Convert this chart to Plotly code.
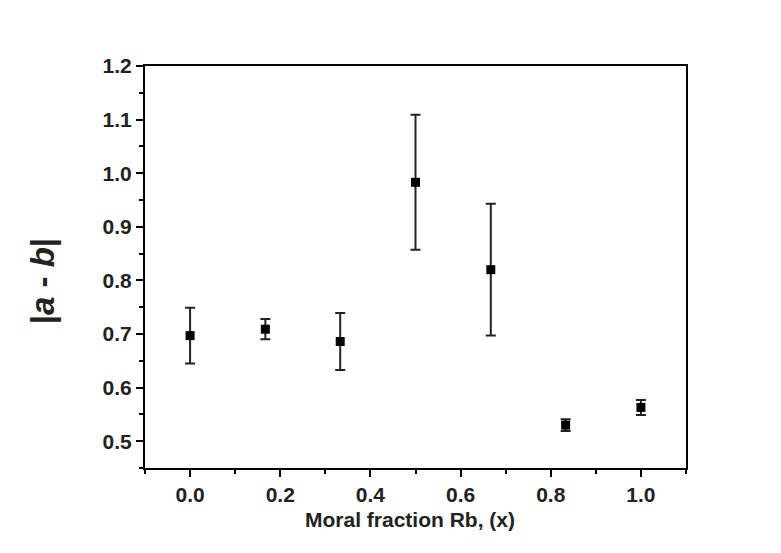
import plotly.graph_objects as go

# Rb molar fraction and |a - b| values with error bars
x_frac = [0.0, 0.167, 0.333, 0.5, 0.667, 0.833, 1.0]
ab_diff = [0.697, 0.709, 0.686, 0.983, 0.820, 0.530, 0.563]
ab_err = [0.052, 0.019, 0.053, 0.126, 0.123, 0.011, 0.014]

x_ticks = [0.0, 0.2, 0.4, 0.6, 0.8, 1.0]
y_ticks = [0.5, 0.6, 0.7, 0.8, 0.9, 1.0, 1.1, 1.2]

FONT = "Liberation Sans, Arial, sans-serif"

fig = go.Figure(go.Scatter(
    x=x_frac, y=ab_diff, mode="markers",
    marker=dict(symbol="square", size=9, color="black"),
    error_y=dict(type="data", array=ab_err, visible=True,
                 color="#222222", thickness=2, width=5),
    showlegend=False,
))

axis_common = dict(
    showline=True, linecolor="black", linewidth=2, mirror=True,
    showgrid=False, zeroline=False,
    ticks="outside", tickwidth=2, ticklen=7, tickcolor="black",
    tickfont=dict(family=FONT, size=21, color="#222222", weight="bold"),
)

fig.update_xaxes(
    range=[-0.1, 1.1], tickvals=x_ticks,
    ticktext=[f"{v:.1f}" for v in x_ticks],
    minor=dict(ticks="outside", dtick=0.1, tick0=0, ticklen=4, tickwidth=2, tickcolor="black"),
    **axis_common,
)
fig.update_yaxes(
    range=[0.45, 1.2], tickvals=y_ticks,
    ticktext=[f"{v:.1f}" for v in y_ticks],
    minor=dict(ticks="outside", dtick=0.05, tick0=0, ticklen=4, tickwidth=2, tickcolor="black"),
    **axis_common,
)

fig.add_annotation(
    text="<b>Moral fraction Rb, (x)</b>", xref="paper", yref="paper",
    x=0.49, y=-0.128, xanchor="center", yanchor="middle", showarrow=False,
    font=dict(family=FONT, size=21, color="#222222"),
)
fig.add_annotation(
    text="<b>|<i>a</i> - <i>b</i>|</b>", xref="paper", yref="paper",
    x=-0.19, y=0.465, xanchor="center", yanchor="middle", showarrow=False,
    textangle=-90, font=dict(family=FONT, size=33, color="#222222"),
)

fig.update_layout(
    width=781, height=553,
    paper_bgcolor="white", plot_bgcolor="white",
    margin=dict(l=137, r=103, t=58, b=93),
)

fig.write_html("out.html")
